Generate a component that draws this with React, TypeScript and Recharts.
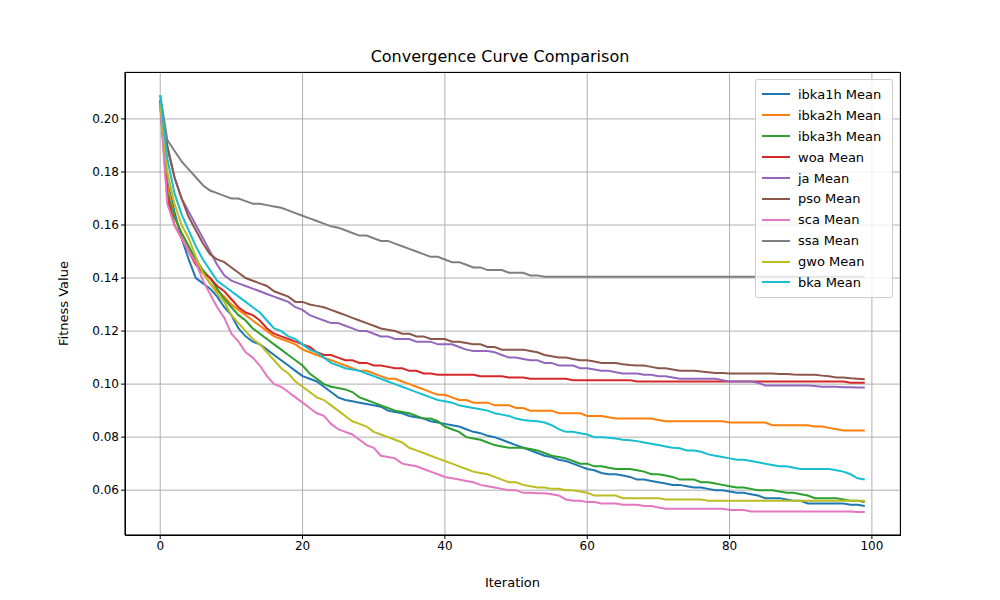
import { CartesianGrid, Line, LineChart, XAxis, YAxis, Label } from "recharts";

// Mean fitness per iteration (0..99).
const ibka1h = [0.206,0.176,0.165,0.155,0.147,0.140,0.138,0.136,0.133,0.129,0.126,0.121,0.118,0.116,0.115,0.113,0.111,0.109,0.107,0.105,0.103,0.102,0.101,0.099,0.097,0.095,0.094,0.0935,0.093,0.0925,0.092,0.0915,0.090,0.0895,0.089,0.088,0.0875,0.087,0.086,0.0855,0.085,0.0845,0.084,0.083,0.082,0.0815,0.0805,0.080,0.079,0.078,0.077,0.076,0.075,0.074,0.073,0.0725,0.0715,0.071,0.070,0.069,0.068,0.0675,0.0665,0.066,0.066,0.0655,0.065,0.064,0.064,0.0635,0.063,0.0625,0.062,0.062,0.0615,0.061,0.061,0.0605,0.060,0.060,0.0595,0.059,0.059,0.0585,0.058,0.057,0.057,0.057,0.0565,0.056,0.056,0.055,0.055,0.055,0.055,0.055,0.055,0.0545,0.0545,0.054];
const ibka2h = [0.206,0.175,0.163,0.157,0.152,0.146,0.142,0.138,0.135,0.133,0.130,0.128,0.126,0.124,0.122,0.120,0.118,0.117,0.116,0.115,0.113,0.112,0.111,0.110,0.109,0.108,0.107,0.106,0.105,0.105,0.104,0.103,0.102,0.102,0.101,0.100,0.099,0.098,0.097,0.096,0.096,0.095,0.094,0.094,0.093,0.093,0.093,0.092,0.092,0.092,0.091,0.091,0.090,0.090,0.090,0.090,0.089,0.089,0.089,0.089,0.088,0.088,0.088,0.0875,0.087,0.087,0.087,0.087,0.087,0.087,0.0865,0.086,0.086,0.086,0.086,0.086,0.086,0.086,0.086,0.086,0.0855,0.0855,0.0855,0.0855,0.0855,0.0855,0.0845,0.0845,0.0845,0.0845,0.0845,0.0845,0.084,0.084,0.0835,0.083,0.0825,0.0825,0.0825,0.0825];
const ibka3h = [0.207,0.172,0.163,0.157,0.152,0.147,0.143,0.140,0.136,0.132,0.129,0.126,0.124,0.121,0.119,0.117,0.115,0.113,0.111,0.109,0.107,0.104,0.102,0.100,0.099,0.0985,0.098,0.097,0.095,0.094,0.093,0.092,0.091,0.090,0.0895,0.089,0.088,0.087,0.087,0.086,0.084,0.083,0.082,0.080,0.0795,0.079,0.078,0.077,0.0765,0.076,0.076,0.076,0.0755,0.075,0.074,0.073,0.0725,0.072,0.071,0.070,0.070,0.069,0.069,0.0685,0.068,0.068,0.068,0.0675,0.067,0.066,0.066,0.0655,0.065,0.064,0.064,0.064,0.063,0.063,0.0625,0.062,0.0615,0.061,0.061,0.0605,0.060,0.060,0.060,0.0595,0.059,0.059,0.0585,0.058,0.057,0.057,0.057,0.057,0.0565,0.056,0.056,0.0555];
const woa = [0.206,0.170,0.160,0.155,0.150,0.145,0.142,0.140,0.137,0.135,0.132,0.129,0.127,0.126,0.124,0.121,0.119,0.118,0.117,0.116,0.115,0.114,0.112,0.111,0.111,0.110,0.109,0.109,0.108,0.108,0.107,0.107,0.1065,0.106,0.106,0.105,0.105,0.104,0.104,0.1035,0.1035,0.1035,0.1035,0.1035,0.1035,0.103,0.103,0.103,0.103,0.1025,0.1025,0.1025,0.102,0.102,0.102,0.102,0.102,0.102,0.1015,0.1015,0.1015,0.1015,0.1015,0.1015,0.1015,0.1015,0.1015,0.101,0.101,0.101,0.101,0.101,0.101,0.101,0.101,0.101,0.101,0.101,0.101,0.101,0.101,0.101,0.101,0.101,0.101,0.101,0.101,0.101,0.101,0.101,0.101,0.101,0.101,0.101,0.101,0.101,0.101,0.1005,0.1005,0.1005];
const ja = [0.207,0.189,0.178,0.170,0.165,0.160,0.155,0.150,0.145,0.141,0.139,0.138,0.137,0.136,0.135,0.134,0.133,0.132,0.131,0.129,0.128,0.126,0.125,0.124,0.123,0.123,0.122,0.121,0.120,0.120,0.119,0.118,0.118,0.117,0.117,0.117,0.116,0.116,0.116,0.115,0.115,0.115,0.114,0.113,0.1125,0.1125,0.1125,0.112,0.111,0.110,0.110,0.1095,0.109,0.109,0.108,0.108,0.107,0.107,0.107,0.106,0.106,0.1055,0.105,0.105,0.1045,0.104,0.104,0.104,0.1035,0.1035,0.103,0.103,0.1025,0.102,0.102,0.102,0.102,0.102,0.102,0.1015,0.101,0.101,0.101,0.101,0.1005,0.0995,0.0995,0.0995,0.0995,0.0995,0.0995,0.0995,0.0993,0.099,0.099,0.099,0.0988,0.0988,0.0987,0.0987];
const pso = [0.207,0.190,0.178,0.170,0.163,0.158,0.153,0.149,0.147,0.146,0.144,0.142,0.140,0.139,0.138,0.137,0.135,0.134,0.133,0.131,0.131,0.130,0.1295,0.129,0.128,0.127,0.126,0.125,0.124,0.123,0.122,0.121,0.1205,0.120,0.119,0.119,0.118,0.118,0.117,0.117,0.117,0.116,0.116,0.1155,0.115,0.115,0.114,0.114,0.113,0.113,0.113,0.113,0.1125,0.112,0.111,0.1105,0.110,0.110,0.1095,0.109,0.109,0.1085,0.108,0.108,0.108,0.1075,0.1072,0.107,0.107,0.1065,0.106,0.106,0.1055,0.105,0.105,0.105,0.1048,0.1045,0.1042,0.1042,0.104,0.104,0.104,0.104,0.104,0.104,0.104,0.1038,0.1038,0.1036,0.1035,0.1035,0.1035,0.1032,0.103,0.1025,0.1025,0.1022,0.102,0.1018];
const sca = [0.205,0.168,0.160,0.155,0.150,0.146,0.139,0.134,0.129,0.125,0.119,0.116,0.112,0.110,0.107,0.103,0.100,0.099,0.097,0.095,0.093,0.091,0.089,0.088,0.085,0.083,0.082,0.081,0.079,0.077,0.076,0.073,0.0725,0.072,0.070,0.0695,0.069,0.068,0.067,0.066,0.065,0.0645,0.064,0.0635,0.063,0.062,0.0615,0.061,0.0605,0.060,0.060,0.059,0.059,0.0588,0.0588,0.0585,0.058,0.0565,0.056,0.056,0.0555,0.0555,0.055,0.055,0.055,0.0545,0.0545,0.0545,0.054,0.054,0.0535,0.053,0.053,0.053,0.053,0.053,0.053,0.053,0.053,0.053,0.0525,0.0525,0.0525,0.052,0.052,0.052,0.052,0.052,0.052,0.052,0.052,0.052,0.052,0.052,0.052,0.052,0.052,0.052,0.0518,0.0518];
const ssa = [0.209,0.192,0.188,0.184,0.181,0.178,0.175,0.173,0.172,0.171,0.170,0.170,0.169,0.168,0.168,0.1675,0.167,0.1665,0.1655,0.1645,0.1635,0.1625,0.1615,0.1605,0.1595,0.159,0.158,0.157,0.156,0.156,0.155,0.154,0.154,0.153,0.152,0.151,0.150,0.149,0.148,0.148,0.147,0.146,0.146,0.145,0.144,0.144,0.143,0.143,0.143,0.142,0.142,0.142,0.141,0.141,0.1405,0.1405,0.1405,0.1405,0.1405,0.1405,0.1405,0.1405,0.1405,0.1405,0.1405,0.1405,0.1405,0.1405,0.1405,0.1405,0.1405,0.1405,0.1405,0.1405,0.1405,0.1405,0.1405,0.1405,0.1405,0.1405,0.1405,0.1405,0.1405,0.1405,0.1405,0.1405,0.1405,0.1405,0.1405,0.1405,0.1405,0.1405,0.1405,0.1405,0.1405,0.1405,0.1405,0.1405,0.1405,0.1405];
const gwo = [0.206,0.180,0.168,0.160,0.155,0.148,0.142,0.138,0.134,0.131,0.126,0.123,0.120,0.117,0.115,0.112,0.109,0.106,0.104,0.101,0.099,0.097,0.095,0.094,0.092,0.090,0.088,0.086,0.085,0.084,0.082,0.081,0.080,0.079,0.078,0.076,0.075,0.074,0.073,0.072,0.071,0.070,0.069,0.068,0.067,0.0665,0.066,0.065,0.064,0.063,0.063,0.062,0.0615,0.061,0.061,0.0605,0.0605,0.060,0.060,0.0595,0.059,0.058,0.058,0.058,0.058,0.057,0.057,0.057,0.057,0.057,0.057,0.0565,0.0565,0.0565,0.0565,0.0565,0.0565,0.056,0.056,0.056,0.056,0.056,0.056,0.056,0.056,0.056,0.056,0.056,0.056,0.056,0.056,0.056,0.056,0.056,0.056,0.056,0.056,0.056,0.056,0.056];
const bka = [0.209,0.185,0.172,0.164,0.158,0.152,0.147,0.143,0.139,0.137,0.135,0.133,0.131,0.129,0.127,0.124,0.121,0.120,0.118,0.117,0.115,0.113,0.112,0.110,0.108,0.107,0.106,0.1055,0.105,0.104,0.103,0.102,0.101,0.100,0.099,0.098,0.097,0.096,0.095,0.094,0.0935,0.093,0.092,0.0915,0.091,0.0905,0.090,0.089,0.0885,0.088,0.087,0.0865,0.0862,0.086,0.0855,0.0845,0.083,0.082,0.082,0.0815,0.081,0.080,0.080,0.0798,0.0795,0.079,0.0788,0.0785,0.078,0.0775,0.077,0.0765,0.076,0.0758,0.075,0.075,0.0745,0.0735,0.073,0.0725,0.072,0.0715,0.0715,0.071,0.0705,0.070,0.0695,0.069,0.069,0.0685,0.068,0.068,0.068,0.068,0.068,0.0675,0.067,0.066,0.0645,0.064];

const SERIES = [
  { key: "ibka1h", name: "ibka1h Mean", color: "#1f77b4", values: ibka1h },
  { key: "ibka2h", name: "ibka2h Mean", color: "#ff7f0e", values: ibka2h },
  { key: "ibka3h", name: "ibka3h Mean", color: "#2ca02c", values: ibka3h },
  { key: "woa", name: "woa Mean", color: "#d62728", values: woa },
  { key: "ja", name: "ja Mean", color: "#9467bd", values: ja },
  { key: "pso", name: "pso Mean", color: "#8c564b", values: pso },
  { key: "sca", name: "sca Mean", color: "#e377c2", values: sca },
  { key: "ssa", name: "ssa Mean", color: "#7f7f7f", values: ssa },
  { key: "gwo", name: "gwo Mean", color: "#bcbd22", values: gwo },
  { key: "bka", name: "bka Mean", color: "#17becf", values: bka },
];

const X_TICKS = [0, 20, 40, 60, 80, 100];
const Y_TICKS = [0.06, 0.08, 0.1, 0.12, 0.14, 0.16, 0.18, 0.2];

const data = ibka1h.map((_, i) => {
  const row: Record<string, number> = { it: i };
  SERIES.forEach((s) => (row[s.key] = s.values[i]));
  return row;
});

const font = "'DejaVu Sans', sans-serif";
const tick = { fontSize: 12, fill: "#000", fontFamily: font };

export default function App() {
  return (
    <div style={{ position: "absolute", left: 0, top: 0, width: 1000, height: 600, background: "#fff", fontFamily: font }}>
      <div style={{ position: "absolute", top: 47, width: 1000, textAlign: "center", fontSize: 16 }}>
        Convergence Curve Comparison
      </div>
      <LineChart width={1000} height={600} data={data} margin={{ top: 72, right: 100, bottom: 35, left: 65 }}>
        <CartesianGrid stroke="#b0b0b0" strokeWidth={1} />
        <XAxis
          type="number"
          dataKey="it"
          domain={[-4.95, 103.95]}
          ticks={X_TICKS}
          height={30}
          tick={tick}
          stroke="#000"
          tickSize={4}
          allowDataOverflow
        >
          <Label value="Iteration" position="insideBottom" offset={-22} style={{ fontSize: 13, fill: "#000", fontFamily: font }} />
        </XAxis>
        <YAxis
          type="number"
          domain={[0.0431, 0.2177]}
          ticks={Y_TICKS}
          tickFormatter={(v: number) => v.toFixed(2)}
          width={60}
          tick={tick}
          stroke="#000"
          tickSize={4}
          allowDataOverflow
        >
          <Label value="Fitness Value" angle={-90} position="insideLeft" offset={-2} style={{ fontSize: 13, fill: "#000", fontFamily: font, textAnchor: "middle" }} />
        </YAxis>
        {SERIES.map((s) => (
          <Line key={s.key} type="linear" dataKey={s.key} name={s.name} stroke={s.color} strokeWidth={2} dot={false} isAnimationActive={false} />
        ))}
      </LineChart>
      <div style={{ position: "absolute", left: 125, top: 72, width: 774, height: 462, border: "1px solid #000", pointerEvents: "none" }} />
      <div
        style={{
          position: "absolute", left: 755, top: 79, width: 136, padding: "4px 0",
          background: "rgba(255,255,255,0.8)", border: "1px solid #ccc", borderRadius: 3, fontSize: 13,
        }}
      >
        {SERIES.map((s) => (
          <div key={s.key} style={{ display: "flex", alignItems: "center", height: 20.9 }}>
            <span style={{ display: "inline-block", width: 28, height: 2, background: s.color, margin: "0 8px 0 6px" }} />
            {s.name}
          </div>
        ))}
      </div>
    </div>
  );
}
